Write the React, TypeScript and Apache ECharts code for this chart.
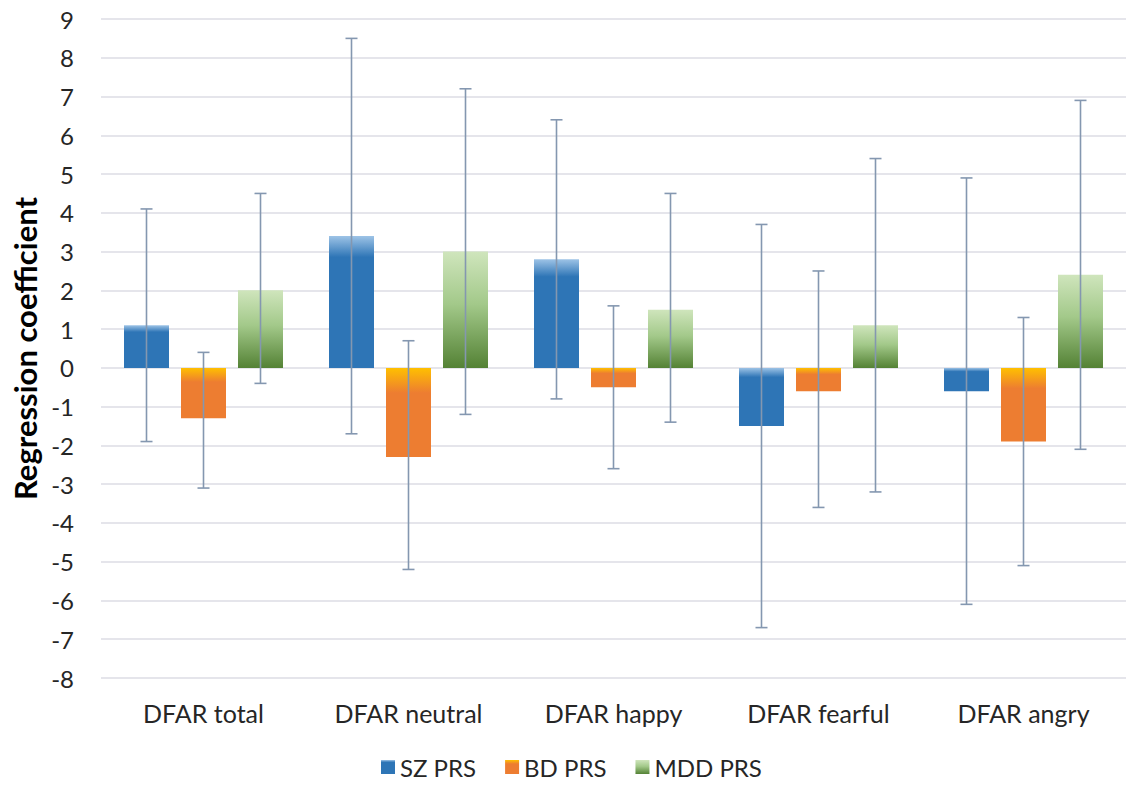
import React, { useEffect, useRef } from "react";
import * as echarts from "echarts";

const categories = ["DFAR total", "DFAR neutral", "DFAR happy", "DFAR fearful", "DFAR angry"];
const seriesNames = ["SZ PRS", "BD PRS", "MDD PRS"];
const szValues = [1.1, 3.4, 2.8, -1.5, -0.6];
const bdValues = [-1.3, -2.3, -0.5, -0.6, -1.9];
const mddValues = [2.0, 3.0, 1.5, 1.1, 2.4];
const szLow = [-1.9, -1.7, -0.8, -6.7, -6.1];
const szHigh = [4.1, 8.5, 6.4, 3.7, 4.9];
const bdLow = [-3.1, -5.2, -2.6, -3.6, -5.1];
const bdHigh = [0.4, 0.7, 1.6, 2.5, 1.3];
const mddLow = [-0.4, -1.2, -1.4, -3.2, -2.1];
const mddHigh = [4.5, 7.2, 4.5, 5.4, 6.9];
const yTicks = { min: -8, max: 9, interval: 1 };

const BAR_W = 45;
const BAR_GAP = 12;
const FONT = "Lato, 'Open Sans', sans-serif";

export default function App() {
  const ref = useRef<HTMLDivElement>(null);
  useEffect(() => {
    if (!ref.current) return;
    const chart = echarts.init(ref.current, undefined, { renderer: "svg" });
    const szFill = new echarts.graphic.LinearGradient(0, 0, 0, 1, [
      { offset: 0, color: "#9DC3E6" },
      { offset: 0.16, color: "#2E75B6" },
      { offset: 1, color: "#2E75B6" },
    ]);
    const bdFill = new echarts.graphic.LinearGradient(0, 0, 0, 1, [
      { offset: 0, color: "#FFC000" },
      { offset: 0.28, color: "#ED7D31" },
      { offset: 1, color: "#ED7D31" },
    ]);
    const mddFill = new echarts.graphic.LinearGradient(0, 0, 0, 1, [
      { offset: 0, color: "#CFE5BC" },
      { offset: 0.45, color: "#A3C98A" },
      { offset: 1, color: "#548235" },
    ]);
    const fills = [szFill, bdFill, mddFill];
    const values = [szValues, bdValues, mddValues];
    const lows = [szLow, bdLow, mddLow];
    const highs = [szHigh, bdHigh, mddHigh];

    const barSeries = seriesNames.map((name, i) => ({
      name,
      type: "bar",
      data: values[i],
      barWidth: BAR_W,
      barGap: (BAR_GAP / BAR_W) * 100 + "%",
      itemStyle: { color: fills[i] },
      z: 2,
    }));

    const errSeries = seriesNames.map((name, i) => ({
      name: name + " err",
      type: "custom",
      z: 5,
      silent: true,
      data: categories.map((_, k) => [k, lows[i][k], highs[i][k]]),
      renderItem: (params: any, api: any) => {
        const k = api.value(0);
        const off = (i - 1) * (BAR_W + BAR_GAP);
        const lo = api.coord([k, api.value(1)]);
        const hi = api.coord([k, api.value(2)]);
        const x = lo[0] + off;
        const st = { stroke: "#8497B0", lineWidth: 1.6 };
        const cap = 6;
        return {
          type: "group",
          children: [
            { type: "line", shape: { x1: x, y1: lo[1], x2: x, y2: hi[1] }, style: st },
            { type: "line", shape: { x1: x - cap, y1: lo[1], x2: x + cap, y2: lo[1] }, style: st },
            { type: "line", shape: { x1: x - cap, y1: hi[1], x2: x + cap, y2: hi[1] }, style: st },
          ],
        };
      },
    }));

    chart.setOption({
      animation: false,
      textStyle: { fontFamily: FONT },
      grid: { left: 101, right: 0, top: 19, bottom: 110, containLabel: false },
      legend: {
        data: seriesNames,
        bottom: 4,
        left: 376,
        icon: "rect",
        itemWidth: 14,
        itemHeight: 14,
        itemGap: 29,
        textStyle: { fontSize: 24, color: "#262626", fontFamily: FONT },
      },
      xAxis: {
        type: "category",
        data: categories,
        position: "bottom",
        axisLine: { show: false },
        axisTick: { show: false },
        axisLabel: { fontSize: 25, color: "#262626", margin: 22, fontFamily: FONT },
      },
      yAxis: {
        type: "value",
        min: yTicks.min,
        max: yTicks.max,
        interval: yTicks.interval,
        name: "Regression coefficient",
        nameLocation: "middle",
        nameGap: 57,
        nameTextStyle: { fontSize: 31, fontWeight: "bold", color: "#000", fontFamily: FONT },
        axisLine: { show: false },
        axisTick: { show: false },
        axisLabel: { fontSize: 24, color: "#262626", margin: 27, fontFamily: FONT },
        splitLine: { lineStyle: { color: "#DCDCE4", width: 1.5 } },
      },
      series: [...barSeries, ...errSeries],
    });
    return () => chart.dispose();
  }, []);
  return (
    <div
      ref={ref}
      style={{ position: "absolute", left: 0, top: 0, width: 1126, height: 788, background: "#fff" }}
    />
  );
}
